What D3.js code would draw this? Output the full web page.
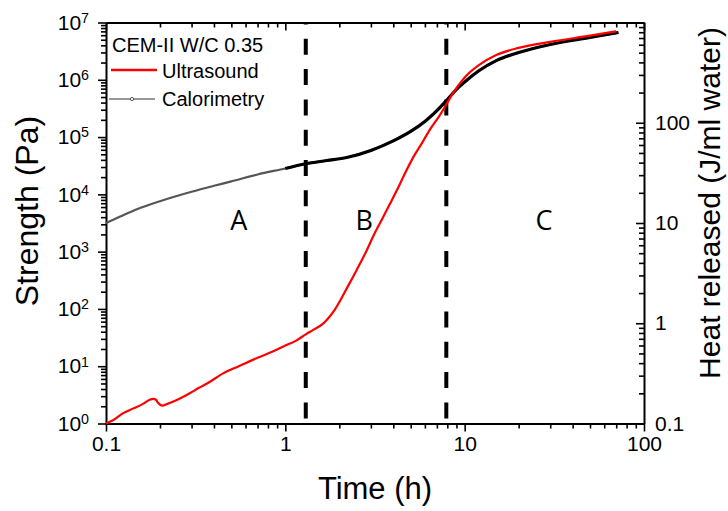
<!DOCTYPE html>
<html lang="en">
<head>
<meta charset="UTF-8">
<title>Strength and heat released</title>
<script src="https://d3js.org/d3.v7.min.js"></script>
<style>
  body { margin: 0; background: #fff; }
  svg { display: block; font-family: "Liberation Sans", Arial, sans-serif; }
</style>
</head>
<body>
<script>
// ultrasound: strength (Pa) against time (h)
const usTime = [0.1, 0.11, 0.124, 0.14, 0.161, 0.175, 0.183, 0.19, 0.195, 0.206, 0.22, 0.25, 0.295, 0.33, 0.37,
  0.45, 0.55, 0.7, 0.85, 1.0, 1.15, 1.3, 1.43, 1.63, 1.9, 2.22, 2.5, 2.85, 3.1, 3.38, 3.8, 4.2, 4.7, 5.2,
  5.8, 6.4, 7.2, 7.9, 8.5, 10, 12, 15, 20, 30, 50, 70];
const usStrength = [1.0, 1.15, 1.5, 1.8, 2.2, 2.6, 2.7, 2.6, 2.3, 2.05, 2.2, 2.6, 3.4, 4.2, 5.1,
  7.5, 10, 14, 18, 23, 28, 36, 43, 56, 100, 240, 480, 1070, 1900, 3200, 6500, 12000, 25000, 46000,
  80000, 135000, 230000, 370000, 550000, 1100000, 1800000, 2700000, 3600000, 4600000, 5900000, 7000000];

// calorimetry: heat released (J/ml water) against time (h)
const calTime = [0.1, 0.12, 0.15, 0.2, 0.3, 0.4, 0.5, 0.7, 1.0, 1.3, 1.7, 2.2, 3.0, 4.0, 5.0, 6.0, 7.0, 8.0,
  9, 10, 12, 15, 20, 30, 50, 72];
const calHeat = [10, 11.6, 13.8, 16.5, 20.5, 23.5, 26, 30.5, 35, 39, 42, 45, 53, 66, 82, 103, 132, 170,
  215, 255, 330, 417, 501, 603, 708, 794];

const phaseNames = ["A", "B", "C"];
const phaseBounds = [1.3, 7.9];
const legendTitle = "CEM-II W/C 0.35";
const seriesNames = ["Ultrasound", "Calorimetry"];

const xTickLabels = [0.1, 1, 10, 100];
const leftTickExp = [0, 1, 2, 3, 4, 5, 6, 7];
const rightTickLabels = [0.1, 1, 10, 100];

const W = 728, H = 511;
const L = 106, R = 644, T = 22.5, B = 423.5;
const labelTimes = [0.55, 2.75, 27.7];   // where the phase letters sit
const labelY = 220;

const svg = d3.select("body").append("svg").attr("width", W).attr("height", H);

const x = d3.scaleLog().domain([0.1, 100]).range([L, R]);
const yL = d3.scaleLog().domain([1, 1e7]).range([B, T]);
const yR = d3.scaleLog().domain([0.1, 1000]).range([B, T]);

function logTicks(lo, hi) {
  const out = [];
  for (let e = Math.round(Math.log10(lo)); e < Math.round(Math.log10(hi)); e++) {
    for (let m = 1; m <= 9; m++) out.push(m * Math.pow(10, e));
  }
  out.push(hi);
  return out;
}
const isMajor = v => Math.abs(Math.log10(v) - Math.round(Math.log10(v))) < 1e-6;

function styleAxis(g) {
  g.select(".domain").attr("stroke", "#000").attr("stroke-width", 2);
  g.selectAll(".tick line").attr("stroke", "#000").attr("stroke-width", 1.6);
  g.selectAll(".tick text").attr("fill", "#000").attr("font-size", 21);
}

// bottom
const gx = svg.append("g").attr("transform", `translate(0,${B})`)
  .call(d3.axisBottom(x).tickValues(logTicks(0.1, 100)).tickSizeInner(8).tickSizeOuter(0).tickPadding(5)
    .tickFormat(d => xTickLabels.includes(+d.toPrecision(3)) && isMajor(d) ? d3.format("~g")(d) : ""));
styleAxis(gx);
gx.selectAll(".tick line").attr("y2", d => isMajor(d) ? 8 : 5);

// top (mirror, inward)
const gt = svg.append("g").attr("transform", `translate(0,${T})`)
  .call(d3.axisTop(x).tickValues(logTicks(0.1, 100)).tickSizeInner(-8).tickSizeOuter(0).tickFormat(""));
styleAxis(gt);
gt.selectAll(".tick line").attr("y2", d => isMajor(d) ? 8 : 5);

// left
const gl = svg.append("g").attr("transform", `translate(${L},0)`)
  .call(d3.axisLeft(yL).tickValues(logTicks(1, 1e7)).tickSizeInner(8).tickSizeOuter(0).tickPadding(9)
    .tickFormat(""));
styleAxis(gl);
gl.selectAll(".tick line").attr("x2", d => isMajor(d) ? -8 : -5);
gl.selectAll(".tick text").each(function (d) {
  if (!isMajor(d)) return;
  const e = Math.round(Math.log10(d));
  if (!leftTickExp.includes(e)) return;
  const t = d3.select(this).text("10");
  t.append("tspan").attr("dy", "-0.48em").attr("font-size", "0.68em").text(e);
});

// right (inward ticks)
const gr = svg.append("g").attr("transform", `translate(${R},0)`)
  .call(d3.axisRight(yR).tickValues(logTicks(0.1, 1000)).tickSizeInner(-8).tickSizeOuter(0).tickPadding(11)
    .tickFormat(d => rightTickLabels.includes(+d.toPrecision(3)) && isMajor(d) ? d3.format("~g")(d) : ""));
styleAxis(gr);
gr.selectAll(".tick line").attr("x2", d => isMajor(d) ? -8 : -5);

// phase boundaries
svg.selectAll("line.phase").data(phaseBounds).enter().append("line")
  .attr("class", "phase")
  .attr("x1", d => x(d)).attr("x2", d => x(d))
  .attr("y1", T).attr("y2", B)
  .attr("stroke", "#000").attr("stroke-width", 4)
  .attr("stroke-dasharray", "16,14.3").attr("stroke-dashoffset", 14);

svg.selectAll("text.phase").data(phaseNames).enter().append("text")
  .attr("class", "phase")
  .attr("x", (d, i) => x(labelTimes[i])).attr("y", labelY + 10)
  .attr("text-anchor", "middle").attr("font-size", 27)
  .attr("font-family", "'Open Sans', sans-serif")
  .text(d => d);

// calorimetry
const calData = calTime.map((t, i) => ({ t, v: calHeat[i] }));
const calLine = d3.line().x(d => x(d.t)).y(d => yR(d.v)).curve(d3.curveMonotoneX);
svg.append("path").datum(calData).attr("d", calLine)
  .attr("fill", "none").attr("stroke", "#555").attr("stroke-width", 2.2);
svg.append("path").datum(calData.filter(d => d.t >= 1.0)).attr("d", calLine)
  .attr("fill", "none").attr("stroke", "#000").attr("stroke-width", 3.2);

// ultrasound
const usData = usTime.map((t, i) => ({ t, v: usStrength[i] }));
svg.append("path").datum(usData)
  .attr("d", d3.line().x(d => x(d.t)).y(d => yL(d.v)).curve(d3.curveMonotoneX))
  .attr("fill", "none").attr("stroke", "#ff0000").attr("stroke-width", 2.2);

// legend
const lg = svg.append("g").attr("font-size", 20);
lg.append("text").attr("x", 112).attr("y", 52).text(legendTitle);
lg.append("line").attr("x1", 111).attr("x2", 157).attr("y1", 70).attr("y2", 70)
  .attr("stroke", "#ff0000").attr("stroke-width", 2.5);
lg.append("text").attr("x", 162).attr("y", 78).text(seriesNames[0]);
lg.append("line").attr("x1", 109).attr("x2", 155).attr("y1", 99).attr("y2", 99)
  .attr("stroke", "#333").attr("stroke-width", 1);
lg.append("circle").attr("cx", 132).attr("cy", 99).attr("r", 1.6)
  .attr("fill", "#fff").attr("stroke", "#333").attr("stroke-width", 0.8);
lg.append("text").attr("x", 162).attr("y", 106).text(seriesNames[1]);

// axis titles
svg.append("text").attr("transform", `translate(38,${(T + B) / 2 - 12}) rotate(-90)`)
  .attr("text-anchor", "middle").attr("font-size", 32).text("Strength (Pa)");
svg.append("text").attr("x", (L + R) / 2).attr("y", 499)
  .attr("text-anchor", "middle").attr("font-size", 31).text("Time (h)");
svg.append("text").attr("transform", `translate(720,${(T + B) / 2 - 20}) rotate(-90)`)
  .attr("text-anchor", "middle").attr("font-size", 30).text("Heat released (J/ml water)");
</script>
</body>
</html>
